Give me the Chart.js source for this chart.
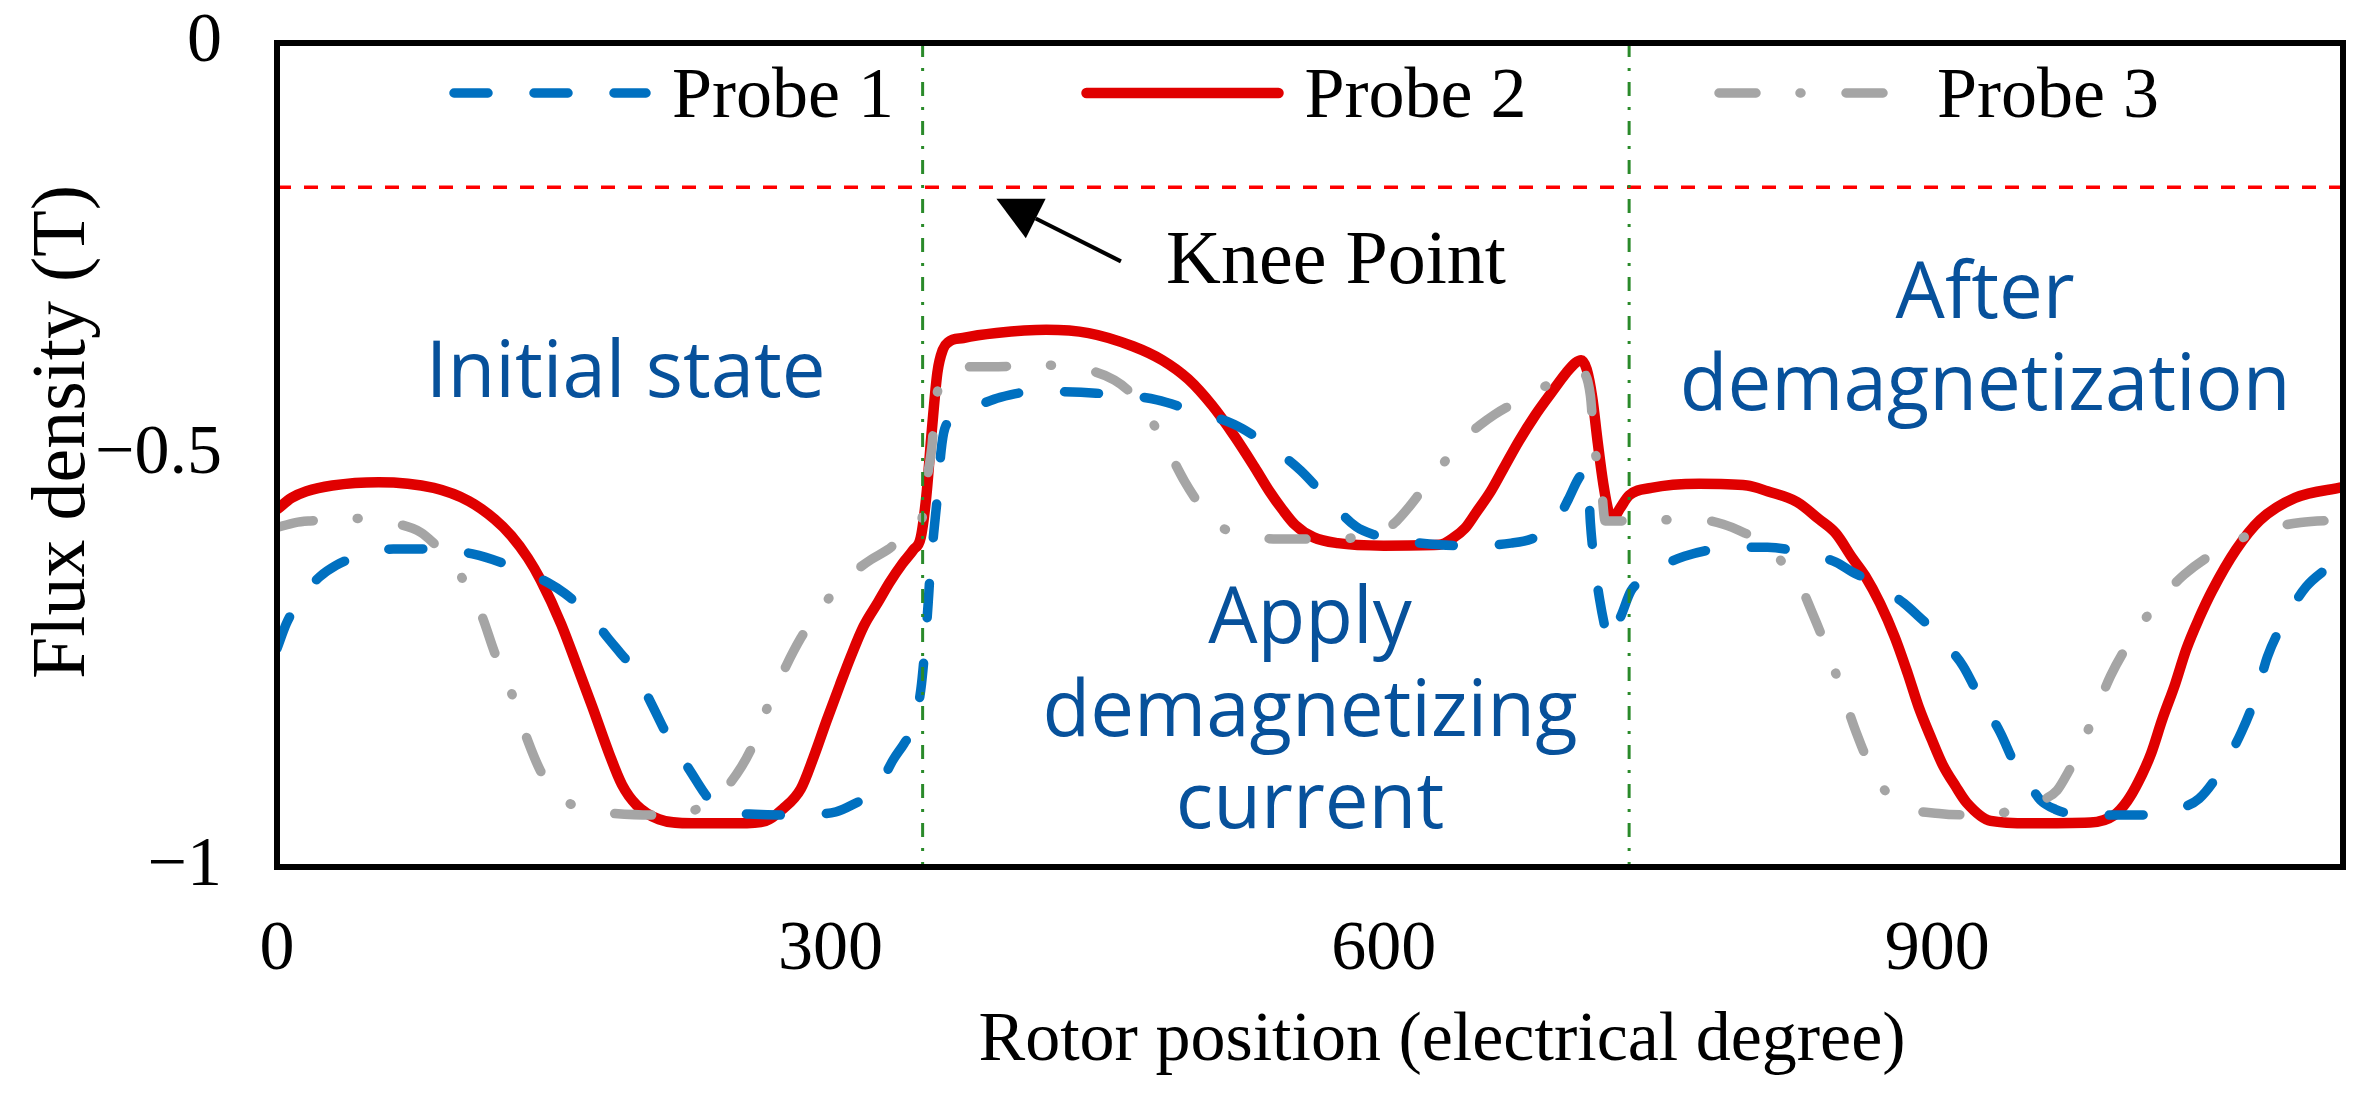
<!DOCTYPE html>
<html>
<head>
<meta charset="utf-8">
<script src="https://cdn.jsdelivr.net/npm/chart.js@4.4.1/dist/chart.umd.min.js"></script>
<style>
  html, body { margin: 0; padding: 0; background: #fff; }
  #wrap { width: 2364px; height: 1099px; }
</style>
</head>
<body>
<div id="wrap"><canvas id="chart" width="2364" height="1099"></canvas></div>
<script>
// --- values: rotor position (electrical degree) / flux density (T) ---
const probe1Deg = [0, 5, 9, 16, 23, 32, 41, 52, 63, 84, 106, 127, 147, 156, 164, 172, 179, 186, 193, 203, 212, 219, 225, 231, 237, 248, 259, 279, 303, 316, 321, 328, 334, 340, 345, 349, 351, 353, 354, 356, 358, 360, 362, 366, 371, 380, 392, 411, 444, 477, 497, 519, 536, 546, 555, 569, 585, 595, 602, 630, 650, 669, 680, 689, 695, 700, 706, 709, 711, 712, 714, 717, 720, 722, 726, 729, 734, 741, 750, 763, 781, 808, 826, 845, 854, 863, 872, 882, 890, 898, 906, 914, 923, 934, 943, 950, 956, 964, 972, 1001, 1020, 1030, 1042, 1054, 1065, 1073, 1079, 1089, 1100, 1110, 1120];
const probe1Val = [-0.735, -0.705, -0.688, -0.665, -0.648, -0.634, -0.625, -0.618, -0.614, -0.614, -0.620, -0.635, -0.655, -0.668, -0.683, -0.701, -0.721, -0.740, -0.759, -0.802, -0.842, -0.866, -0.887, -0.908, -0.925, -0.934, -0.936, -0.937, -0.933, -0.920, -0.915, -0.895, -0.870, -0.850, -0.830, -0.785, -0.740, -0.680, -0.645, -0.595, -0.550, -0.495, -0.468, -0.458, -0.449, -0.440, -0.430, -0.423, -0.425, -0.433, -0.447, -0.463, -0.486, -0.502, -0.519, -0.552, -0.587, -0.597, -0.601, -0.609, -0.610, -0.607, -0.602, -0.591, -0.575, -0.554, -0.527, -0.521, -0.540, -0.582, -0.628, -0.675, -0.710, -0.726, -0.708, -0.693, -0.665, -0.651, -0.636, -0.623, -0.614, -0.612, -0.618, -0.630, -0.642, -0.652, -0.664, -0.680, -0.696, -0.713, -0.733, -0.756, -0.794, -0.836, -0.879, -0.900, -0.919, -0.930, -0.935, -0.937, -0.936, -0.930, -0.917, -0.882, -0.836, -0.791, -0.745, -0.698, -0.660, -0.640, -0.625];

const probe2Deg = [0, 8, 16, 30, 55, 85, 104, 118, 127, 136, 143, 154, 163, 171, 180, 187, 195, 207, 225, 250, 265, 274, 284, 291, 298, 305, 311, 318, 326, 332, 339, 345, 349, 352, 355, 358, 361, 364, 372, 390, 417, 440, 464, 480, 494, 507, 519, 530, 538, 545, 552, 562, 575, 600, 630, 638, 644, 650, 658, 665, 673, 682, 691, 699, 704, 707, 710, 713, 716, 719, 722, 724, 728, 733, 745, 771, 797, 808, 824, 836, 845, 854, 861, 869, 877, 884, 890, 897, 903, 910, 916, 929, 950, 983, 996, 1003, 1009, 1016, 1022, 1029, 1035, 1042, 1049, 1062, 1075, 1094, 1120];
const probe2Val = [-0.566, -0.552, -0.544, -0.537, -0.533, -0.540, -0.556, -0.578, -0.598, -0.625, -0.652, -0.705, -0.758, -0.806, -0.862, -0.900, -0.925, -0.942, -0.947, -0.947, -0.944, -0.930, -0.905, -0.866, -0.822, -0.780, -0.745, -0.708, -0.678, -0.655, -0.632, -0.615, -0.600, -0.550, -0.470, -0.400, -0.372, -0.363, -0.358, -0.352, -0.348, -0.352, -0.368, -0.385, -0.408, -0.440, -0.477, -0.515, -0.544, -0.566, -0.585, -0.600, -0.607, -0.610, -0.609, -0.600, -0.589, -0.570, -0.544, -0.516, -0.484, -0.452, -0.424, -0.400, -0.388, -0.385, -0.396, -0.430, -0.485, -0.535, -0.570, -0.578, -0.565, -0.549, -0.540, -0.535, -0.537, -0.544, -0.557, -0.578, -0.595, -0.625, -0.647, -0.680, -0.721, -0.765, -0.806, -0.845, -0.876, -0.902, -0.922, -0.944, -0.947, -0.946, -0.937, -0.920, -0.897, -0.862, -0.821, -0.778, -0.736, -0.698, -0.665, -0.615, -0.579, -0.552, -0.539];

const probe3Deg = [0, 10, 18, 43, 66, 78, 85, 93, 100, 106, 111, 118, 127, 135, 143, 150, 158, 170, 182, 203, 225, 236, 246, 257, 265, 276, 284, 291, 298, 306, 314, 322, 331, 340, 349, 352, 355, 357, 362, 370, 387, 412, 436, 454, 463, 472, 483, 492, 500, 507, 518, 530, 550, 574, 590, 600, 607, 613, 620, 628, 636, 644, 652, 660, 670, 681, 690, 700, 707, 712, 714, 718, 720, 730, 742, 766, 784, 796, 808, 816, 824, 832, 841, 849, 856, 865, 872, 880, 901, 924, 948, 958, 965, 971, 977, 986, 994, 1006, 1020, 1034, 1054, 1075, 1097, 1120];
const probe3Val = [-0.588, -0.582, -0.580, -0.577, -0.584, -0.594, -0.607, -0.625, -0.648, -0.672, -0.695, -0.740, -0.788, -0.841, -0.884, -0.906, -0.922, -0.932, -0.935, -0.937, -0.932, -0.918, -0.897, -0.857, -0.811, -0.756, -0.722, -0.698, -0.677, -0.657, -0.640, -0.627, -0.615, -0.600, -0.584, -0.534, -0.490, -0.437, -0.405, -0.393, -0.393, -0.391, -0.395, -0.409, -0.425, -0.451, -0.494, -0.532, -0.560, -0.580, -0.594, -0.600, -0.602, -0.602, -0.598, -0.592, -0.580, -0.565, -0.545, -0.522, -0.500, -0.479, -0.464, -0.451, -0.438, -0.426, -0.413, -0.400, -0.400, -0.428, -0.484, -0.540, -0.580, -0.580, -0.580, -0.577, -0.584, -0.595, -0.609, -0.630, -0.650, -0.690, -0.740, -0.791, -0.836, -0.884, -0.908, -0.925, -0.935, -0.937, -0.927, -0.918, -0.907, -0.885, -0.859, -0.811, -0.768, -0.721, -0.678, -0.645, -0.614, -0.592, -0.582, -0.579];

const seriesNames = ['Probe 1', 'Probe 2', 'Probe 3'];
const xTicks = [0, 300, 600, 900];
const yTicks = [0, -0.5, -1];
const kneePoint = -0.175;          // knee point flux density (T)
const stageBounds = [350, 733];    // where the demagnetizing current starts / stops
const xMax = 1120;

// --- styles ---
const SERIF = "'Liberation Serif', 'Times New Roman', serif";
const SANS = "'Open Sans', 'Noto Sans', sans-serif";
const NOTE_BLUE = '#07519B';

function toPoints(xs, ys) {
    return xs.map((v, i) => ({ x: v, y: ys[i] }));
}

const probeStyles = [
    { color: '#0070C0', width: 9.5, dash: [34, 46] },
    { color: '#E00000', width: 10.5, dash: [] },
    { color: '#A5A5A5', width: 9.5, dash: [37, 44, 1, 45] }
];

// annotations placed in data units, so they follow the scales
const notes = [
    { text: 'Initial state', x: 189, y: -0.430, font: '78px ' + SANS, color: NOTE_BLUE, align: 'center' },
    { text: 'Apply', x: 560, y: -0.728, font: '78px ' + SANS, color: NOTE_BLUE, align: 'center' },
    { text: 'demagnetizing', x: 560, y: -0.841, font: '78px ' + SANS, color: NOTE_BLUE, align: 'center' },
    { text: 'current', x: 560, y: -0.953, font: '78px ' + SANS, color: NOTE_BLUE, align: 'center' },
    { text: 'After', x: 926, y: -0.334, font: '78px ' + SANS, color: NOTE_BLUE, align: 'center' },
    { text: 'demagnetization', x: 926, y: -0.445, font: '78px ' + SANS, color: NOTE_BLUE, align: 'center' },
    { text: 'Knee Point', x: 482, y: -0.291, font: '76px ' + SERIF, color: '#000', align: 'left' }
];
const kneeArrow = { from: [457.5, -0.265], to: [390, -0.189] };

// --- extra drawing: frame, legend inside the plot, notes, arrow, axis titles ---
const overlay = {
    id: 'overlay',
    afterDatasetsDraw(chart) {
        const { ctx, chartArea: a, scales: { x, y } } = chart;
        ctx.save();

        // plot frame
        ctx.strokeStyle = '#000';
        ctx.lineWidth = 6;
        ctx.setLineDash([]);
        ctx.strokeRect(a.left, a.top, a.right - a.left, a.bottom - a.top);

        // legend, one row inside the top of the plot
        ctx.font = '72px ' + SERIF;
        ctx.fillStyle = '#000';
        ctx.textAlign = 'left';
        ctx.textBaseline = 'alphabetic';
        seriesNames.forEach((name, i) => {
            const st = probeStyles[i];
            const x0 = a.left + 172 + i * 632.5;
            const ly = a.top + 50;
            ctx.beginPath();
            ctx.strokeStyle = st.color;
            ctx.lineWidth = st.width;
            ctx.lineCap = 'round';
            ctx.setLineDash(st.dash);
            ctx.moveTo(x0 + 5, ly);
            ctx.lineTo(x0 + 197, ly);
            ctx.stroke();
            ctx.setLineDash([]);
            ctx.fillText(name, x0 + 223, a.top + 74);
        });

        // arrow pointing at the knee point line
        const tx = x.getPixelForValue(kneeArrow.to[0]);
        const ty = y.getPixelForValue(kneeArrow.to[1]);
        const fx = x.getPixelForValue(kneeArrow.from[0]);
        const fy = y.getPixelForValue(kneeArrow.from[1]);
        const ang = Math.atan2(ty - fy, tx - fx);
        const headLen = 44, headHalf = 22;
        const bx = tx - headLen * Math.cos(ang);
        const by = ty - headLen * Math.sin(ang);
        ctx.strokeStyle = '#000';
        ctx.lineWidth = 4;
        ctx.lineCap = 'butt';
        ctx.beginPath();
        ctx.moveTo(fx, fy);
        ctx.lineTo(bx, by);
        ctx.stroke();
        ctx.fillStyle = '#000';
        ctx.beginPath();
        ctx.moveTo(tx, ty);
        ctx.lineTo(bx + headHalf * Math.sin(ang), by - headHalf * Math.cos(ang));
        ctx.lineTo(bx - headHalf * Math.sin(ang), by + headHalf * Math.cos(ang));
        ctx.closePath();
        ctx.fill();

        // text notes
        notes.forEach(n => {
            ctx.font = n.font;
            ctx.fillStyle = n.color;
            ctx.textAlign = n.align;
            ctx.textBaseline = 'alphabetic';
            ctx.fillText(n.text, x.getPixelForValue(n.x), y.getPixelForValue(n.y));
        });

        // axis titles
        ctx.fillStyle = '#000';
        ctx.font = '70px ' + SERIF;
        ctx.textAlign = 'center';
        ctx.fillText('Rotor position (electrical degree)', 1442, 1060);
        ctx.font = '76px ' + SERIF;
        ctx.translate(84, 432);
        ctx.rotate(-Math.PI / 2);
        ctx.fillText('Flux density (T)', 0, 0);

        ctx.restore();
    }
};

const baseLine = { pointRadius: 0, pointHoverRadius: 0, fill: false };

const datasets = seriesNames.map((name, i) => Object.assign({}, baseLine, {
    label: name,
    data: toPoints([probe1Deg, probe2Deg, probe3Deg][i], [probe1Val, probe2Val, probe3Val][i]),
    borderColor: probeStyles[i].color,
    borderWidth: probeStyles[i].width,
    borderDash: probeStyles[i].dash,
    borderCapStyle: probeStyles[i].dash.length ? 'round' : 'butt',
    borderJoinStyle: 'round',
    cubicInterpolationMode: 'monotone',
    order: [2, 3, 1][i]
}));

datasets.push(Object.assign({}, baseLine, {
    label: 'Knee point',
    data: [{ x: 0, y: kneePoint }, { x: xMax, y: kneePoint }],
    borderColor: '#FF0000',
    borderWidth: 3.5,
    borderDash: [14, 13],
    order: 4
}));

stageBounds.forEach(b => {
    datasets.push(Object.assign({}, baseLine, {
        label: 'Stage boundary',
        data: [{ x: b, y: 0 }, { x: b, y: -1 }],
        borderColor: '#2A8A2A',
        borderWidth: 3,
        borderDash: [14, 11, 3, 11],
        order: 0
    }));
});

// tick label overflow must not push the plot area around
function noScalePadding(s) {
    s.paddingTop = 0;
    s.paddingBottom = 0;
    s.paddingLeft = 0;
    s.paddingRight = 0;
}

new Chart(document.getElementById('chart'), {
    type: 'line',
    data: { datasets: datasets },
    options: {
        responsive: false,
        animation: false,
        events: [],
        layout: { padding: { top: 43, right: 21, left: 0, bottom: 0 } },
        plugins: { legend: { display: false }, tooltip: { enabled: false } },
        scales: {
            x: {
                type: 'linear',
                min: 0,
                max: xMax,
                grid: { display: false, drawTicks: false },
                border: { display: false },
                ticks: { color: '#000', font: { family: SERIF, size: 70 }, padding: 42, maxRotation: 0, autoSkip: false },
                afterBuildTicks: s => { s.ticks = xTicks.map(v => ({ value: v })); },
                afterFit: s => { s.height = 232; noScalePadding(s); }
            },
            y: {
                type: 'linear',
                min: -1,
                max: 0,
                grid: { display: false, drawTicks: false },
                border: { display: false },
                ticks: {
                    color: '#000',
                    font: { family: SERIF, size: 70 },
                    padding: 55,
                    callback: v => String(v).replace('-', '\u2212')
                },
                afterBuildTicks: s => { s.ticks = yTicks.map(v => ({ value: v })); },
                afterFit: s => { s.width = 277; noScalePadding(s); }
            }
        }
    },
    plugins: [overlay]
});
</script>
</body>
</html>
